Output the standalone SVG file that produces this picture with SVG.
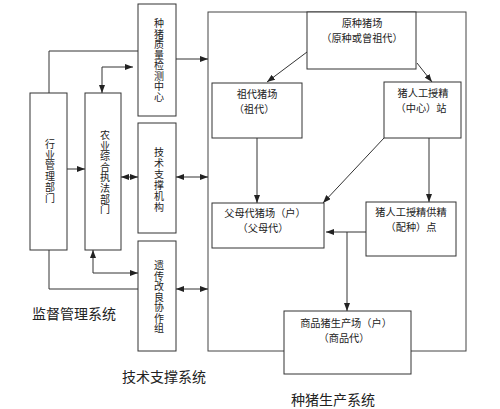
<svg xmlns="http://www.w3.org/2000/svg" width="500" height="409" viewBox="0 0 500 409">
<style>
.box{fill:#fff;stroke:#333;stroke-width:1}
.frame{fill:none;stroke:#444;stroke-width:1}
.t{font-family:"Noto Sans CJK SC","Noto Sans",sans-serif;font-size:10.2px;fill:#222;text-anchor:middle}
.v{font-family:"Noto Sans CJK SC","Noto Sans",sans-serif;font-size:10px;fill:#222;text-anchor:middle}
.lbl{font-family:"Noto Sans CJK SC","Noto Sans",sans-serif;font-size:14px;fill:#222;text-anchor:middle}
.c{fill:none;stroke:#333;stroke-width:1}
</style>
<defs>
<marker id="ah" viewBox="0 0 8 6" refX="8" refY="3" markerWidth="8" markerHeight="6" markerUnits="userSpaceOnUse" orient="auto-start-reverse">
<path d="M0,0 L8,3 L0,6 Z" fill="#222"/>
</marker>
</defs>
<rect width="500" height="409" fill="#fff"/>
<rect id="production-frame" class="frame" x="208" y="12" width="258" height="339"/>
<g id="connectors">
<path class="c" d="M49,93 V51 H138"/>
<path class="c" d="M102,93 V67 H133" marker-start="url(#ah)" marker-end="url(#ah)"/>
<path class="c" d="M176,59 H208" marker-end="url(#ah)"/>
<path class="c" d="M67,169 H85" marker-end="url(#ah)"/>
<path class="c" d="M121,177 H138" marker-start="url(#ah)" marker-end="url(#ah)"/>
<path class="c" d="M176,177 H208" marker-start="url(#ah)" marker-end="url(#ah)"/>
<path class="c" d="M93,250 V273 H138" marker-start="url(#ah)" marker-end="url(#ah)"/>
<path class="c" d="M49,250 V289 H138"/>
<path class="c" d="M176,289 H208" marker-start="url(#ah)" marker-end="url(#ah)"/>
<path class="c" d="M307,52 L267,82" marker-end="url(#ah)"/>
<path class="c" d="M417,63 L432,82" marker-end="url(#ah)"/>
<path class="c" d="M257,138 V203" marker-end="url(#ah)"/>
<path class="c" d="M384,138 L323,203" marker-end="url(#ah)"/>
<path class="c" d="M429,138 V202" marker-end="url(#ah)"/>
<path class="c" d="M366,232 H326" marker-end="url(#ah)"/>
<path class="c" d="M347,232 V311" marker-end="url(#ah)"/>
</g>
<g id="quality-center">
<rect class="box" x="138" y="4" width="38" height="112"/>
<text class="v"><tspan x="159" y="27">种</tspan><tspan x="159" dy="10.5">猪</tspan><tspan x="159" dy="10.5">质</tspan><tspan x="159" dy="10.5">量</tspan><tspan x="159" dy="10.5">检</tspan><tspan x="159" dy="10.5">测</tspan><tspan x="159" dy="10.5">中</tspan><tspan x="159" dy="10.5">心</tspan></text>
</g>
<g id="industry-dept">
<rect class="box" x="30" y="93" width="37" height="157"/>
<text class="v"><tspan x="50" y="148">行</tspan><tspan x="50" dy="10.7">业</tspan><tspan x="50" dy="10.7">管</tspan><tspan x="50" dy="10.7">理</tspan><tspan x="50" dy="10.7">部</tspan><tspan x="50" dy="10.7">门</tspan></text>
</g>
<g id="law-dept">
<rect class="box" x="85" y="93" width="36" height="157"/>
<text class="v"><tspan x="105" y="139">农</tspan><tspan x="105" dy="10.6">业</tspan><tspan x="105" dy="10.6">综</tspan><tspan x="105" dy="10.6">合</tspan><tspan x="105" dy="10.6">执</tspan><tspan x="105" dy="10.6">法</tspan><tspan x="105" dy="10.6">部</tspan><tspan x="105" dy="10.6">门</tspan></text>
</g>
<g id="tech-support">
<rect class="box" x="138" y="123" width="38" height="110"/>
<text class="v"><tspan x="159" y="155.5">技</tspan><tspan x="159" dy="11">术</tspan><tspan x="159" dy="11">支</tspan><tspan x="159" dy="11">撑</tspan><tspan x="159" dy="11">机</tspan><tspan x="159" dy="11">构</tspan></text>
</g>
<g id="genetic-group">
<rect class="box" x="138" y="241" width="38" height="110"/>
<text class="v"><tspan x="159" y="269">遗</tspan><tspan x="159" dy="10.5">传</tspan><tspan x="159" dy="10.5">改</tspan><tspan x="159" dy="10.5">良</tspan><tspan x="159" dy="10.5">协</tspan><tspan x="159" dy="10.5">作</tspan><tspan x="159" dy="10.5">组</tspan></text>
</g>
<g id="original-farm">
<rect class="box" x="307" y="12" width="109" height="57"/>
<text class="t"><tspan x="362" y="26.5">原种猪场</tspan><tspan x="362" y="41.5">（原种或曾祖代）</tspan></text>
</g>
<g id="grand-farm">
<rect class="box" x="212" y="83" width="90" height="55"/>
<text class="t"><tspan x="257" y="97.5">祖代猪场</tspan><tspan x="254" y="112.5">（祖代）</tspan></text>
</g>
<g id="ai-center">
<rect class="box" x="384" y="82" width="77" height="56"/>
<text class="t"><tspan x="423" y="96.5">猪人工授精</tspan><tspan x="421" y="111.5">（中心）站</tspan></text>
</g>
<g id="parent-farm">
<rect class="box" x="212" y="203" width="112" height="45"/>
<text class="t"><tspan x="265" y="216.5">父母代猪场（户）</tspan><tspan x="263" y="231.5">（父母代）</tspan></text>
</g>
<g id="ai-point">
<rect class="box" x="366" y="202" width="90" height="54"/>
<text class="t"><tspan x="411" y="215.5">猪人工授精供精</tspan><tspan x="411" y="230.5">（配种）点</tspan></text>
</g>
<g id="commercial-farm">
<rect class="box" x="284" y="311" width="127" height="63"/>
<text class="t"><tspan x="346" y="326.5">商品猪生产场（户）</tspan><tspan x="344" y="341.5">（商品代）</tspan></text>
</g>
<text class="lbl" x="74" y="319">监督管理系统</text>
<text class="lbl" x="164" y="382">技术支撑系统</text>
<text class="lbl" x="333" y="405">种猪生产系统</text>
</svg>
